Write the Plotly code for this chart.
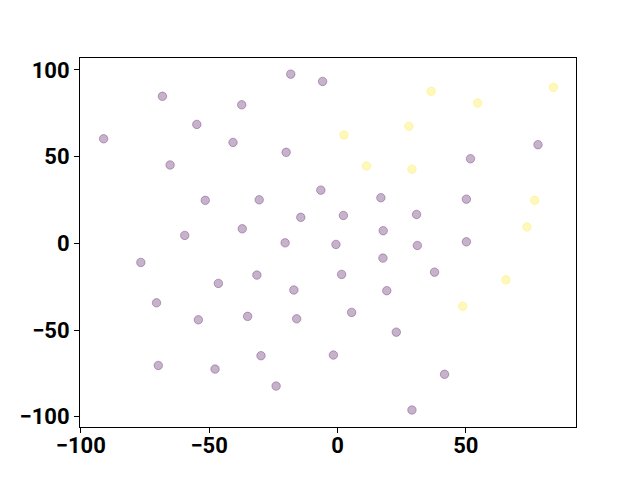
import plotly.graph_objects as go

# Purple group (class 0)
purple_x = [-91.1, -68.2, -54.8, -37.3, -40.7, -18.2, -5.8, -20.0, -65.2, -51.5,
            -30.5, -6.5, -14.3, -59.5, -37.1, -20.4, 78.1, 51.8, 16.9, 50.2,
            2.3, 30.8, 17.8, -0.6, 31.1, 50.2, -76.6, -46.4, -31.4, -17.0,
            -70.5, -54.2, -35.0, -15.9, -69.8, -47.7, -29.8, -23.9, 17.7, 1.6,
            37.8, 19.2, 5.5, 22.9, -1.6, 41.7, 29.0]
purple_y = [60.3, 84.8, 68.6, 79.9, 58.2, 97.6, 93.4, 52.5, 45.2, 24.8,
            25.1, 30.7, 15.0, 4.6, 8.4, 0.3, 56.9, 48.8, 26.3, 25.5,
            16.1, 16.7, 7.3, -0.6, -1.2, 0.9, -11.0, -23.1, -18.3, -26.9,
            -34.3, -44.1, -42.1, -43.5, -70.4, -72.5, -64.8, -82.3, -8.5, -17.9,
            -16.6, -27.3, -39.8, -51.2, -64.4, -75.5, -96.1]

# Yellow group (class 1)
yellow_x = [36.5, 54.6, 84.1, 2.5, 27.8, 11.3, 29.0, 76.8, 73.8, 65.6, 48.8]
yellow_y = [87.7, 80.9, 90.0, 62.5, 67.6, 44.6, 42.8, 24.8, 9.4, -21.0, -36.3]

x_ticks = [-100, -50, 0, 50]
y_ticks = [-100, -50, 0, 50, 100]

alpha = 0.3
purple_rgba = f"rgba(68,1,84,{alpha})"
yellow_rgba = f"rgba(253,231,37,{alpha})"

fig = go.Figure()
fig.add_trace(go.Scatter(
    x=purple_x, y=purple_y, mode="markers",
    marker=dict(size=8.5, color=purple_rgba, line=dict(color=purple_rgba, width=1)),
    showlegend=False,
))
fig.add_trace(go.Scatter(
    x=yellow_x, y=yellow_y, mode="markers",
    marker=dict(size=8.5, color=yellow_rgba, line=dict(color=yellow_rgba, width=1)),
    showlegend=False,
))

tickfont = dict(family="Roboto", size=22, color="black", weight="bold")
axis_common = dict(
    showgrid=False, zeroline=False, showline=True, linecolor="black", linewidth=1,
    mirror=True, ticks="outside", ticklen=5, tickwidth=1, tickcolor="black",
    tickfont=tickfont, automargin=False,
)
fig.update_xaxes(range=[-100.3, 92.9], tickvals=x_ticks, ticklabelstandoff=-6,
                 ticktext=[str(v).replace("-", "\u2212") for v in x_ticks], **axis_common)
fig.update_yaxes(range=[-105.9, 106.9], tickvals=y_ticks,
                 ticktext=[str(v).replace("-", "\u2212") for v in y_ticks], **axis_common)

# the page body adds an 8px offset, so margins are compensated
fig.update_layout(
    width=640, height=480,
    margin=dict(l=72, r=72, t=50, b=61, autoexpand=False),
    paper_bgcolor="white", plot_bgcolor="white",
)

fig.write_html("out.html")
